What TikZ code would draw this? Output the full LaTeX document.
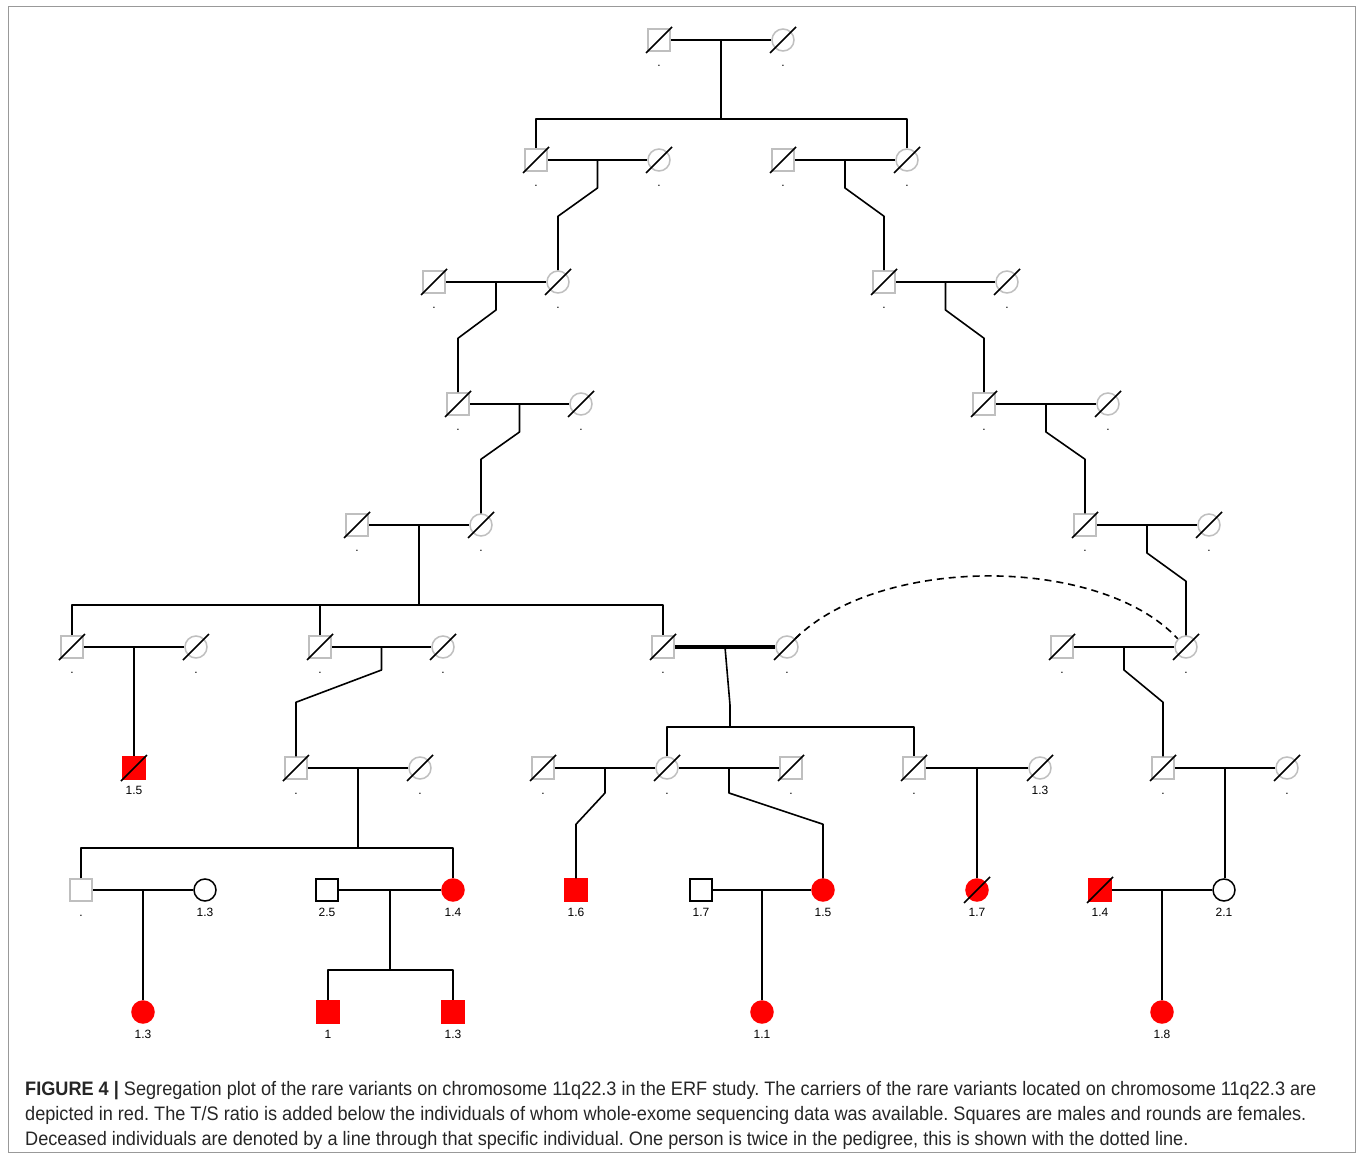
\documentclass[tikz,border=0pt]{standalone}
\usepackage{fontspec}
\setmainfont{Liberation Sans}
\newfontfamily\capfont[FakeStretch=0.93]{Liberation Sans}
\usetikzlibrary{calc}

\begin{document}
\frenchspacing
\begin{tikzpicture}[
  x=1pt, y=-1pt,
  ind/.style={minimum size=22pt,inner sep=0pt,line width=1.5pt,draw=black,fill=white},
  male/.style={ind,rectangle},
  fem/.style={ind,circle},
  ungt/.style={draw=black!25},
  aff/.style={fill=red,draw=red},
  every label/.style={font=\fontsize{12}{14}\selectfont,inner sep=1pt,text height=9pt,text depth=2pt},
  label distance=5pt,
  ln/.style={line width=1.6pt,line join=round}
]
\useasboundingbox (0,0) rectangle (1360,1155);
\draw[black!40,line width=1pt] (8,7) rectangle (1355,1152);

% generation 1
\node[male,ungt,label=below:.] (g1m) at (659,40) {};
\node[fem,ungt,label=below:.] (g1f) at (783,40) {};
% generation 2
\node[male,ungt,label=below:.] (g2am) at (536,160) {};
\node[fem,ungt,label=below:.] (g2af) at (659,160) {};
\node[male,ungt,label=below:.] (g2bm) at (783,160) {};
\node[fem,ungt,label=below:.] (g2bf) at (907,160) {};
% generation 3
\node[male,ungt,label=below:.] (g3am) at (434,282) {};
\node[fem,ungt,label=below:.] (g3af) at (558,282) {};
\node[male,ungt,label=below:.] (g3bm) at (884,282) {};
\node[fem,ungt,label=below:.] (g3bf) at (1007,282) {};
% generation 4
\node[male,ungt,label=below:.] (g4am) at (458,404) {};
\node[fem,ungt,label=below:.] (g4af) at (581,404) {};
\node[male,ungt,label=below:.] (g4bm) at (984,404) {};
\node[fem,ungt,label=below:.] (g4bf) at (1108,404) {};
% generation 5
\node[male,ungt,label=below:.] (g5am) at (357,525) {};
\node[fem,ungt,label=below:.] (g5af) at (481,525) {};
\node[male,ungt,label=below:.] (g5bm) at (1085,525) {};
\node[fem,ungt,label=below:.] (g5bf) at (1209,525) {};
% generation 6
\node[male,ungt,label=below:.] (g6am) at (72,647) {};
\node[fem,ungt,label=below:.] (g6af) at (196,647) {};
\node[male,ungt,label=below:.] (g6bm) at (320,647) {};
\node[fem,ungt,label=below:.] (g6bf) at (443,647) {};
\node[male,ungt,label=below:.] (g6cm) at (663,647) {};
\node[fem,ungt,label=below:.] (g6cf) at (787,647) {};
\node[male,ungt,label=below:.] (g6dm) at (1062,647) {};
\node[fem,ungt,label=below:.] (g6df) at (1186,647) {};
% generation 7
\node[male,aff,label=below:1.5] (g7a) at (134,768) {};
\node[male,ungt,label=below:.] (g7bm) at (296,768) {};
\node[fem,ungt,label=below:.] (g7bf) at (420,768) {};
\node[male,ungt,label=below:.] (g7cm) at (543,768) {};
\node[fem,ungt,label=below:.] (g7cf) at (667,768) {};
\node[male,ungt,label=below:.] (g7dm) at (791,768) {};
\node[male,ungt,label=below:.] (g7em) at (914,768) {};
\node[fem,ungt,label=below:1.3] (g7ef) at (1040,768) {};
\node[male,ungt,label=below:.] (g7fm) at (1163,768) {};
\node[fem,ungt,label=below:.] (g7ff) at (1287,768) {};
% generation 8
\node[male,ungt,label=below:.] (g8am) at (81,890) {};
\node[fem,label=below:1.3] (g8af) at (205,890) {};
\node[male,label=below:2.5] (g8bm) at (327,890) {};
\node[fem,aff,label=below:1.4] (g8bf) at (453,890) {};
\node[male,aff,label=below:1.6] (g8c) at (576,890) {};
\node[male,label=below:1.7] (g8dm) at (701,890) {};
\node[fem,aff,label=below:1.5] (g8df) at (823,890) {};
\node[fem,aff,label=below:1.7] (g8e) at (977,890) {};
\node[male,aff,label=below:1.4] (g8fm) at (1100,890) {};
\node[fem,label=below:2.1] (g8ff) at (1224,890) {};
% generation 9
\node[fem,aff,label=below:1.3] (g9a) at (143,1012) {};
\node[male,aff,label=below:1] (g9b) at (328,1012) {};
\node[male,aff,label=below:1.3] (g9c) at (453,1012) {};
\node[fem,aff,label=below:1.1] (g9d) at (762,1012) {};
\node[fem,aff,label=below:1.8] (g9e) at (1162,1012) {};

% deceased
\foreach \n in {g1m,g1f,g2am,g2af,g2bm,g2bf,g3am,g3af,g3bm,g3bf,g4am,g4af,g4bm,g4bf,
  g5am,g5af,g5bm,g5bf,g6am,g6af,g6bm,g6bf,g6cm,g6cf,g6dm,g6df,g7a,g7bm,g7bf,g7cm,
  g7cf,g7dm,g7em,g7ef,g7fm,g7ff,g8e,g8fm}
  \draw[ln] ($(\n)+(-13,13)$) -- ($(\n)+(13,-13)$);

% couples
\foreach \a/\b/\c in {g1m/g1f/c1,g2am/g2af/c2a,g2bm/g2bf/c2b,g3am/g3af/c3a,g3bm/g3bf/c3b,
  g4am/g4af/c4a,g4bm/g4bf/c4b,g5am/g5af/c5a,g5bm/g5bf/c5b,g6am/g6af/c6a,g6bm/g6bf/c6b,
  g6dm/g6df/c6d,g7bm/g7bf/c7b,g7cm/g7cf/c7c,g7cf/g7dm/c7d,g7em/g7ef/c7e,g7fm/g7ff/c7f,
  g8am/g8af/c8a,g8bm/g8bf/c8b,g8dm/g8df/c8d,g8fm/g8ff/c8f}
{
  \draw[ln] (\a) -- (\b);
  \coordinate (\c) at ($(\a)!0.5!(\b)$);
}
\draw[line width=3.5pt] (g6cm) -- (g6cf);
\coordinate (c6c) at ($(g6cm)!0.5!(g6cf)$);

% lines of descent
\foreach \c/\k/\d in {c2a/g3af/28,c2b/g3bm/28,c3a/g4am/28,c3b/g4bm/28,c4a/g5af/28,
  c4b/g5bm/28,c5b/g6df/28,c6b/g7bm/23,c6d/g7fm/23,c7c/g8c/25,c7d/g8df/25}
  \draw[ln] (\c) -- ++(0,\d) -- ($(\k.north)+(0,-54)$) -- (\k.north);
\foreach \c/\k in {c6a/g7a,c7e/g8e,c7f/g8ff,c8a/g9a,c8d/g9d,c8f/g9e}
  \draw[ln] (\c) -- (\c |- \k.north);

% sibships
\draw[ln] (c1) -- ++(0,79) coordinate (s1);
\draw[ln] (g2am.north) |- (s1) -| (g2bf.north);
\draw[ln] (c5a) -- ++(0,80) coordinate (s5);
\draw[ln] (g6am.north) |- (s5) -| (g6cm.north);
\draw[ln] (g6bm.north) -- (g6bm.north |- s5);
\draw[ln] (c6c) -- ++(5,58) -- ++(0,22) coordinate (s6);
\draw[ln] (g7cf.north) |- (s6) -| (g7em.north);
\draw[ln] (c7b) -- ++(0,80) coordinate (s7);
\draw[ln] (g8am.north) |- (s7) -| (g8bf.north);
\draw[ln] (c8b) -- ++(0,80) coordinate (s8);
\draw[ln] (g9b.north) |- (s8) -| (g9c.north);

% same person twice
\draw[ln,dashed,dash pattern=on 7pt off 5pt] (g6cf.north east) .. controls (880,555) and (1100,555) .. (g6df.north west);

\node[anchor=north west,align=left,inner sep=0pt,text=black!85,
  font=\capfont\fontsize{19.5}{25}\selectfont] (cap) at (25,1081)
  {\textbf{FIGURE 4 |} Segregation plot of the rare variants on chromosome 11q22.3 in the ERF study. The carriers of the rare variants located on chromosome 11q22.3 are\\
  depicted in red. The T/S ratio is added below the individuals of whom whole-exome sequencing data was available. Squares are males and rounds are females.\\
  Deceased individuals are denoted by a line through that specific individual. One person is twice in the pedigree, this is shown with the dotted line.};
\end{tikzpicture}
\end{document}
